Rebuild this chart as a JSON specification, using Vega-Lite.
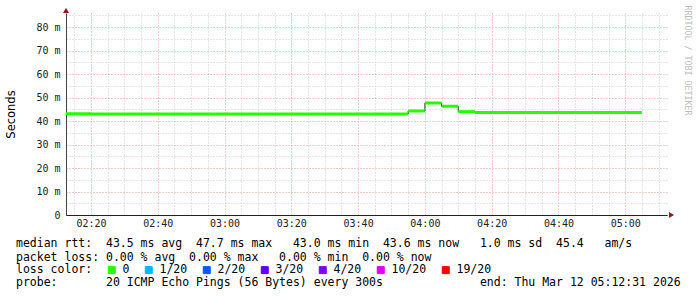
{
  "$schema": "https://vega.github.io/schema/vega-lite/v6.json",
  "width": 601,
  "height": 202,
  "autosize": "none",
  "padding": {"left": 66, "top": 13, "right": 30, "bottom": 82},
  "background": "white",
  "config": {"view": {"stroke": null}, "font": "DejaVu Sans Mono"},
  "title": {
    "text": ["median\u00a0rtt:\u00a0\u00a043.5\u00a0ms\u00a0avg\u00a0\u00a047.7\u00a0ms\u00a0max\u00a0\u00a0\u00a043.0\u00a0ms\u00a0min\u00a0\u00a043.6\u00a0ms\u00a0now\u00a0\u00a0\u00a01.0\u00a0ms\u00a0sd\u00a0\u00a045.4\u00a0\u00a0\u00a0am/s",
             "packet\u00a0loss:\u00a00.00\u00a0%\u00a0avg\u00a0\u00a00.00\u00a0%\u00a0max\u00a0\u00a0\u00a00.00\u00a0%\u00a0min\u00a0\u00a00.00\u00a0%\u00a0now"],
    "subtitle": "probe:\u00a0\u00a0\u00a0\u00a0\u00a0\u00a0\u00a020\u00a0ICMP\u00a0Echo\u00a0Pings\u00a0(56\u00a0Bytes)\u00a0every\u00a0300s\u00a0\u00a0\u00a0\u00a0\u00a0\u00a0\u00a0\u00a0\u00a0\u00a0\u00a0\u00a0\u00a0\u00a0end:\u00a0Thu\u00a0Mar\u00a012\u00a005:12:31\u00a02026",
    "orient": "bottom",
    "anchor": "start",
    "frame": "group",
    "dx": -50,
    "offset": -38,
    "font": "DejaVu Sans Mono",
    "fontSize": 11.5,
    "fontWeight": "normal",
    "color": "#000000",
    "lineHeight": 13.67,
    "subtitleFont": "DejaVu Sans Mono",
    "subtitleFontSize": 11.5,
    "subtitleFontWeight": "normal",
    "subtitleColor": "#000000",
    "subtitleLineHeight": 13.67,
    "subtitlePadding": 13.7
  },
  "layer": [
    {
      "data": {"name": "rtt"},
      "mark": {"type": "line", "interpolate": "step-after", "strokeWidth": 1, "color": "#333333", "clip": true},
      "encoding": {
        "x": {
          "field": "start", "type": "temporal",
          "scale": {"domain": [
            {"year": 2026, "month": 3, "date": 12, "hours": 2, "minutes": 12, "seconds": 31},
            {"year": 2026, "month": 3, "date": 12, "hours": 5, "minutes": 12, "seconds": 31}
          ], "nice": false},
          "axis": {
            "orient": "top", "labels": false, "ticks": false, "domain": false, "title": null,
            "grid": true, "gridColor": "#cccccc", "gridDash": [1, 2], "gridWidth": 1,
            "values": [
              {"year": 2026, "month": 3, "date": 12, "hours": 2, "minutes": 15},
              {"year": 2026, "month": 3, "date": 12, "hours": 2, "minutes": 25},
              {"year": 2026, "month": 3, "date": 12, "hours": 2, "minutes": 30},
              {"year": 2026, "month": 3, "date": 12, "hours": 2, "minutes": 35},
              {"year": 2026, "month": 3, "date": 12, "hours": 2, "minutes": 45},
              {"year": 2026, "month": 3, "date": 12, "hours": 2, "minutes": 50},
              {"year": 2026, "month": 3, "date": 12, "hours": 2, "minutes": 55},
              {"year": 2026, "month": 3, "date": 12, "hours": 3, "minutes": 5},
              {"year": 2026, "month": 3, "date": 12, "hours": 3, "minutes": 10},
              {"year": 2026, "month": 3, "date": 12, "hours": 3, "minutes": 15},
              {"year": 2026, "month": 3, "date": 12, "hours": 3, "minutes": 25},
              {"year": 2026, "month": 3, "date": 12, "hours": 3, "minutes": 30},
              {"year": 2026, "month": 3, "date": 12, "hours": 3, "minutes": 35},
              {"year": 2026, "month": 3, "date": 12, "hours": 3, "minutes": 45},
              {"year": 2026, "month": 3, "date": 12, "hours": 3, "minutes": 50},
              {"year": 2026, "month": 3, "date": 12, "hours": 3, "minutes": 55},
              {"year": 2026, "month": 3, "date": 12, "hours": 4, "minutes": 5},
              {"year": 2026, "month": 3, "date": 12, "hours": 4, "minutes": 10},
              {"year": 2026, "month": 3, "date": 12, "hours": 4, "minutes": 15},
              {"year": 2026, "month": 3, "date": 12, "hours": 4, "minutes": 25},
              {"year": 2026, "month": 3, "date": 12, "hours": 4, "minutes": 30},
              {"year": 2026, "month": 3, "date": 12, "hours": 4, "minutes": 35},
              {"year": 2026, "month": 3, "date": 12, "hours": 4, "minutes": 45},
              {"year": 2026, "month": 3, "date": 12, "hours": 4, "minutes": 50},
              {"year": 2026, "month": 3, "date": 12, "hours": 4, "minutes": 55},
              {"year": 2026, "month": 3, "date": 12, "hours": 5, "minutes": 5},
              {"year": 2026, "month": 3, "date": 12, "hours": 5, "minutes": 10}
            ]
          }
        },
        "y": {
          "field": "rtt", "type": "quantitative",
          "scale": {"domain": [0, 0.086], "nice": false, "zero": true},
          "axis": {
            "orient": "right", "labels": false, "ticks": false, "domain": false,
            "grid": true, "gridColor": "#cccccc", "gridDash": [1, 2], "gridWidth": 1,
            "values": [0.005, 0.015, 0.025, 0.035, 0.045, 0.055, 0.065, 0.075, 0.085],
            "title": "RRDTOOL / TOBI OETIKER",
            "titleFont": "DejaVu Sans Mono", "titleFontSize": 8.3, "titleFontWeight": "normal",
            "titleColor": "#bdbdbd", "titleAngle": 90, "titleAlign": "left", "titleBaseline": "middle",
            "titleX": 19, "titleY": -8
          }
        }
      }
    },
    {
      "data": {"name": "rtt"},
      "mark": {"type": "rule", "strokeWidth": 3, "strokeCap": "butt", "clip": true},
      "encoding": {
        "x": {
          "field": "start", "type": "temporal",
          "scale": {"domain": [
            {"year": 2026, "month": 3, "date": 12, "hours": 2, "minutes": 12, "seconds": 31},
            {"year": 2026, "month": 3, "date": 12, "hours": 5, "minutes": 12, "seconds": 31}
          ], "nice": false},
          "axis": {
            "orient": "bottom", "title": null, "format": "%H:%M",
            "values": [
              {"year": 2026, "month": 3, "date": 12, "hours": 2, "minutes": 20},
              {"year": 2026, "month": 3, "date": 12, "hours": 2, "minutes": 40},
              {"year": 2026, "month": 3, "date": 12, "hours": 3, "minutes": 0},
              {"year": 2026, "month": 3, "date": 12, "hours": 3, "minutes": 20},
              {"year": 2026, "month": 3, "date": 12, "hours": 3, "minutes": 40},
              {"year": 2026, "month": 3, "date": 12, "hours": 4, "minutes": 0},
              {"year": 2026, "month": 3, "date": 12, "hours": 4, "minutes": 20},
              {"year": 2026, "month": 3, "date": 12, "hours": 4, "minutes": 40},
              {"year": 2026, "month": 3, "date": 12, "hours": 5, "minutes": 0}
            ],
            "labelFont": "DejaVu Sans Mono", "labelFontSize": 10, "labelColor": "#222222",
            "labelPadding": 3.5, "ticks": false, "labelFlush": false, "labelOverlap": false,
            "domain": true, "domainColor": "#222222", "domainWidth": 1,
            "grid": true, "gridColor": "#e79a9a", "gridDash": [1, 2], "gridWidth": 1
          }
        },
        "x2": {"field": "end"},
        "y": {
          "field": "rtt", "type": "quantitative",
          "scale": {"domain": [0, 0.086], "nice": false, "zero": true},
          "axis": {
            "orient": "left",
            "values": [0, 0.01, 0.02, 0.03, 0.04, 0.05, 0.06, 0.07, 0.08],
            "labelExpr": "datum.value == 0 ? '0' : format(datum.value * 1000, 'd') + ' m'",
            "labelFont": "DejaVu Sans Mono", "labelFontSize": 10, "labelColor": "#222222",
            "labelPadding": 6, "ticks": false, "labelFlush": false, "labelOverlap": false,
            "domain": true, "domainColor": "#444444", "domainWidth": 1,
            "grid": true, "gridColor": "#e79a9a", "gridDash": [1, 2], "gridWidth": 1,
            "title": "Seconds", "titleFont": "DejaVu Sans", "titleFontSize": 11.5,
            "titleFontWeight": "normal", "titleColor": "#000000", "titlePadding": 19
          }
        },
        "color": {
          "field": "loss", "type": "nominal",
          "scale": {
            "domain": ["0", "1/20", "2/20", "3/20", "4/20", "10/20", "19/20"],
            "range": ["#26ff00", "#00b8ff", "#0059ff", "#5e00ff", "#7e00ff", "#dd00ff", "#ff0000"]
          },
          "legend": {
            "orient": "none", "legendX": -50, "legendY": 251, "direction": "horizontal",
            "title": "loss color:", "titleOrient": "left", "titleFont": "DejaVu Sans Mono",
            "titleFontSize": 11.5, "titleFontWeight": "normal", "titleColor": "#000000",
            "titlePadding": 13,
            "labelFont": "DejaVu Sans Mono", "labelFontSize": 11.5, "labelColor": "#000000",
            "labelOffset": 5, "symbolType": "square", "symbolSize": 49,
            "symbolStrokeWidth": 1, "symbolStrokeColor": "#000000",
            "columnPadding": 13, "padding": 0,
            "encode": {"symbols": {"update": {
              "fill": {"scale": "color", "field": "value"},
              "fillOpacity": {"value": 1},
              "stroke": {"value": "#000000"},
              "strokeWidth": {"value": 1}
            }}}
          }
        }
      }
    },
    {
      "data": {"values": [{"arrow": "y"}]},
      "mark": {"type": "point", "shape": "triangle-up", "filled": true, "size": 36, "color": "#8f1c1c", "opacity": 1},
      "encoding": {
        "x": {"datum": {"year": 2026, "month": 3, "date": 12, "hours": 2, "minutes": 12, "seconds": 31}, "type": "temporal", "axis": null},
        "y": {"datum": 0.0871, "type": "quantitative", "axis": null}
      }
    },
    {
      "data": {"values": [{"arrow": "x"}]},
      "mark": {"type": "point", "shape": "triangle-right", "filled": true, "size": 36, "color": "#8f1c1c", "opacity": 1},
      "encoding": {
        "x": {"datum": {"year": 2026, "month": 3, "date": 12, "hours": 5, "minutes": 13, "seconds": 52}, "type": "temporal", "axis": null},
        "y": {"datum": 0, "type": "quantitative", "axis": null}
      }
    }
  ],
  "datasets": {
    "rtt": [
      {"start": "2026-03-12T02:10:00", "end": "2026-03-12T02:20:00", "rtt": 0.0431, "loss": "0"},
      {"start": "2026-03-12T02:20:00", "end": "2026-03-12T03:55:00", "rtt": 0.0430, "loss": "0"},
      {"start": "2026-03-12T03:55:00", "end": "2026-03-12T04:00:00", "rtt": 0.0443, "loss": "0"},
      {"start": "2026-03-12T04:00:00", "end": "2026-03-12T04:05:00", "rtt": 0.0477, "loss": "0"},
      {"start": "2026-03-12T04:05:00", "end": "2026-03-12T04:10:00", "rtt": 0.0463, "loss": "0"},
      {"start": "2026-03-12T04:10:00", "end": "2026-03-12T04:15:00", "rtt": 0.0440, "loss": "0"},
      {"start": "2026-03-12T04:15:00", "end": "2026-03-12T05:05:00", "rtt": 0.0436, "loss": "0"}
    ]
  },
  "resolve": {"axis": {"x": "independent", "y": "independent"}}
}
